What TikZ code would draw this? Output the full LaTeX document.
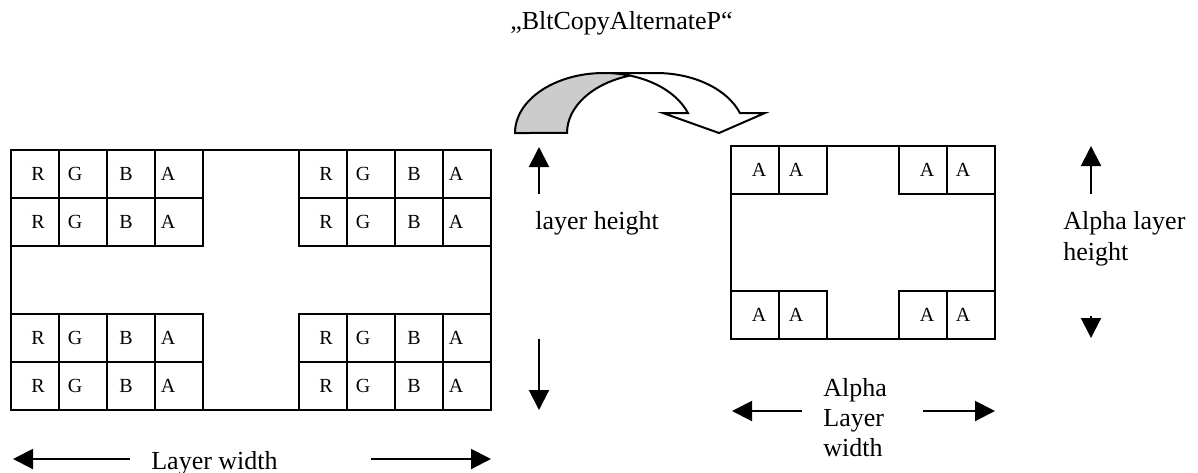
\documentclass[tikz,border=0pt]{standalone}
\usepackage{fontspec}
\setmainfont{Liberation Serif}
\usetikzlibrary{arrows.meta}
\begin{document}
\begin{tikzpicture}[x=0.5pt,y=-0.5pt,
  box/.style={draw,line width=1.2pt},
  cell/.style={font=\fontsize{10}{12}\selectfont, anchor=base, inner sep=0pt},
  lbl/.style={font=\fontsize{13}{15}\selectfont, inner sep=0pt},
  arr/.style={line width=1pt,-{Triangle[length=10pt,width=10pt]}},
  ell/.style={x radius=89,y radius=60},
  outline/.style={draw,line width=1pt,line join=miter}]
\useasboundingbox (0,0) rectangle (1198,472);
% title
\node[lbl,anchor=base] (title) at (621.5,29) {„BltCopyAlternateP“};
% left layer
\draw[box] (11,150) rectangle (491,410);
\foreach \x in {11,59,107,155,299,347,395,443}
  \foreach \y in {150,198,314,362}
    \draw[box] (\x,\y) rectangle ++(48,48);
\foreach \y/\r in {174/1,222/2,338/3,386/4}
  \foreach \x/\t/\c in {38/R/1,75/G/2,126/B/3,168/A/4,326/R/5,363/G/6,414/B/7,456/A/8}
    \node[cell] (c\r\c) at (\x,\y+6.6) {\t};
% alpha layer
\draw[box] (731,146) rectangle (995,339);
\foreach \x in {731,779,899,947}
  \foreach \y in {146,291}
    \draw[box] (\x,\y) rectangle ++(48,48);
\foreach \y/\r in {170/1,315/2}
  \foreach \x/\c in {759/1,796/2,927/3,963/4}
    \node[cell] (a\r\c) at (\x,\y+6.6) {A};
% curved down arrow
\fill[white] (719,133) -- (662.9,113) -- (687.9,113)
  arc[start angle=340.53,end angle=270,ell] -- (656,73)
  arc[start angle=270,end angle=340.53,ell] -- (764.9,113) -- cycle;
\fill[black!20] (630,75.6) arc[start angle=253,end angle=180,ell] -- (515,133)
  arc[start angle=180,end angle=287,ell] -- cycle;
\path[outline] (630,75.6) arc[start angle=253,end angle=180,ell] -- (515,133)
  arc[start angle=180,end angle=270,ell] -- (656,73)
  arc[start angle=270,end angle=340.53,ell] -- (764.9,113) -- (719,133)
  -- (662.9,113) -- (687.9,113) arc[start angle=340.53,end angle=270,ell];
% layer height
\coordinate (lhA) at (539,194); \coordinate (lhB) at (539,147);
\draw[arr] (lhA) -- (lhB);
\coordinate (lhC) at (539,339); \coordinate (lhD) at (539,410);
\draw[arr] (lhC) -- (lhD);
\node[lbl,anchor=base west] (lh) at (535,229) {layer height};
% alpha layer height
\coordinate (ahA) at (1091,194); \coordinate (ahB) at (1091,146);
\draw[arr] (ahA) -- (ahB);
\coordinate (ahC) at (1091,316); \coordinate (ahD) at (1091,338);
\draw[arr] (ahC) -- (ahD);
\node[lbl,anchor=base west] (ah1) at (1063,229) {Alpha layer};
\node[lbl,anchor=base west] (ah2) at (1063,260) {height};
% layer width
\coordinate (lwA) at (130,459); \coordinate (lwB) at (13,459);
\draw[arr] (lwA) -- (lwB);
\coordinate (lwC) at (371,459); \coordinate (lwD) at (491,459);
\draw[arr] (lwC) -- (lwD);
\node[lbl,anchor=base] (lw) at (214.5,469) {Layer width};
% alpha layer width
\coordinate (awA) at (802,411); \coordinate (awB) at (732,411);
\draw[arr] (awA) -- (awB);
\coordinate (awC) at (923,411); \coordinate (awD) at (995,411);
\draw[arr] (awC) -- (awD);
\node[lbl,anchor=base west] (aw1) at (823,396) {Alpha};
\node[lbl,anchor=base west] (aw2) at (823,426) {Layer};
\node[lbl,anchor=base west] (aw3) at (823,456) {width};
\end{tikzpicture}
\end{document}
